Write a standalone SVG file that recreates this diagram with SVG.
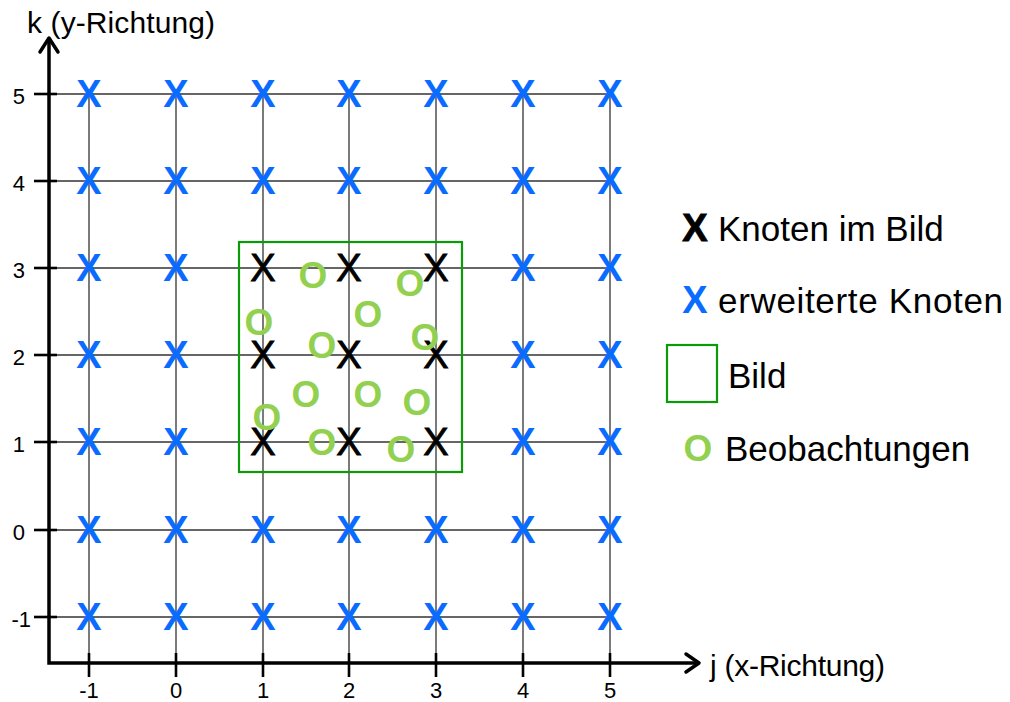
<svg xmlns="http://www.w3.org/2000/svg" width="1010" height="702" viewBox="0 0 1010 702">
<defs>
<style>
text{font-family:"Liberation Sans",Arial,sans-serif;}
.grid{stroke:#333;stroke-width:1.3;fill:none;}
.tick{stroke:#000;stroke-width:2.6;fill:none;}
.axis{stroke:#000;stroke-width:3.5;fill:none;}
.arrow{stroke:#000;stroke-width:3.5;fill:none;stroke-linecap:round;stroke-linejoin:round;}
.xb{fill:#0A6CFF;font-size:38px;font-weight:bold;text-anchor:middle;}
.xk{fill:#000;stroke:#000;stroke-width:0.9;font-size:38px;text-anchor:middle;}
.obs{fill:#92D050;font-size:37px;font-weight:bold;text-anchor:middle;}
.lbl{fill:#000;font-size:22px;}
.ax{fill:#000;font-size:30px;}
.leg{fill:#000;font-size:35px;}
.bild{fill:none;stroke:#0A9A0A;stroke-width:2.2;}
</style>
</defs>
<rect width="1010" height="702" fill="#fff"/>
<g id="connectors">
<g id="grid-h">
<line class="grid" x1="34" y1="94" x2="610" y2="94"/>
<line class="grid" x1="34" y1="181" x2="610" y2="181"/>
<line class="grid" x1="34" y1="268" x2="610" y2="268"/>
<line class="grid" x1="34" y1="355" x2="610" y2="355"/>
<line class="grid" x1="34" y1="442" x2="610" y2="442"/>
<line class="grid" x1="34" y1="530" x2="610" y2="530"/>
<line class="grid" x1="34" y1="617" x2="610" y2="617"/>
</g>
<g id="grid-v">
<line class="grid" x1="89" y1="94" x2="89" y2="677"/>
<line class="grid" x1="176" y1="94" x2="176" y2="677"/>
<line class="grid" x1="263" y1="94" x2="263" y2="677"/>
<line class="grid" x1="349" y1="94" x2="349" y2="677"/>
<line class="grid" x1="436" y1="94" x2="436" y2="677"/>
<line class="grid" x1="523" y1="94" x2="523" y2="677"/>
<line class="grid" x1="610" y1="94" x2="610" y2="677"/>
</g>
<g id="ticks">
<line class="tick" x1="34" y1="94" x2="57" y2="94"/>
<line class="tick" x1="34" y1="181" x2="57" y2="181"/>
<line class="tick" x1="34" y1="268" x2="57" y2="268"/>
<line class="tick" x1="34" y1="355" x2="57" y2="355"/>
<line class="tick" x1="34" y1="442" x2="57" y2="442"/>
<line class="tick" x1="34" y1="530" x2="57" y2="530"/>
<line class="tick" x1="34" y1="617" x2="57" y2="617"/>
<line class="tick" x1="89" y1="653" x2="89" y2="677"/>
<line class="tick" x1="176" y1="653" x2="176" y2="677"/>
<line class="tick" x1="263" y1="653" x2="263" y2="677"/>
<line class="tick" x1="349" y1="653" x2="349" y2="677"/>
<line class="tick" x1="436" y1="653" x2="436" y2="677"/>
<line class="tick" x1="523" y1="653" x2="523" y2="677"/>
<line class="tick" x1="610" y1="653" x2="610" y2="677"/>
</g>
<g id="axes">
<polyline class="axis" points="49,39 49,663 696,663"/>
<polyline class="arrow" points="40,52 49,38 58,52"/>
<polyline class="arrow" points="686,654 699,663 686,672"/>
</g>
</g>
<g id="tick-labels">
<text class="lbl" x="25" y="104" text-anchor="end">5</text>
<text class="lbl" x="25" y="191" text-anchor="end">4</text>
<text class="lbl" x="25" y="278" text-anchor="end">3</text>
<text class="lbl" x="25" y="365" text-anchor="end">2</text>
<text class="lbl" x="25" y="452" text-anchor="end">1</text>
<text class="lbl" x="25" y="540" text-anchor="end">0</text>
<text class="lbl" x="31" y="627" text-anchor="end">-1</text>
<text class="lbl" x="89" y="698" text-anchor="middle">-1</text>
<text class="lbl" x="176" y="698" text-anchor="middle">0</text>
<text class="lbl" x="263" y="698" text-anchor="middle">1</text>
<text class="lbl" x="349" y="698" text-anchor="middle">2</text>
<text class="lbl" x="436" y="698" text-anchor="middle">3</text>
<text class="lbl" x="523" y="698" text-anchor="middle">4</text>
<text class="lbl" x="610" y="698" text-anchor="middle">5</text>
</g>
<text class="ax" x="27" y="33" textLength="188">k (y-Richtung)</text>
<text class="ax" x="710" y="676" textLength="175">j (x-Richtung)</text>
<g id="bild"><rect class="bild" x="239" y="242" width="223" height="230"/></g>
<g id="nodes">
<g id="n-m1-5"><text class="xb" x="89" y="107">X</text></g>
<g id="n-0-5"><text class="xb" x="176" y="107">X</text></g>
<g id="n-1-5"><text class="xb" x="263" y="107">X</text></g>
<g id="n-2-5"><text class="xb" x="349" y="107">X</text></g>
<g id="n-3-5"><text class="xb" x="436" y="107">X</text></g>
<g id="n-4-5"><text class="xb" x="523" y="107">X</text></g>
<g id="n-5-5"><text class="xb" x="610" y="107">X</text></g>
<g id="n-m1-4"><text class="xb" x="89" y="194">X</text></g>
<g id="n-0-4"><text class="xb" x="176" y="194">X</text></g>
<g id="n-1-4"><text class="xb" x="263" y="194">X</text></g>
<g id="n-2-4"><text class="xb" x="349" y="194">X</text></g>
<g id="n-3-4"><text class="xb" x="436" y="194">X</text></g>
<g id="n-4-4"><text class="xb" x="523" y="194">X</text></g>
<g id="n-5-4"><text class="xb" x="610" y="194">X</text></g>
<g id="n-m1-3"><text class="xb" x="89" y="281">X</text></g>
<g id="n-0-3"><text class="xb" x="176" y="281">X</text></g>
<g id="n-1-3"><text class="xk" x="263" y="281">X</text></g>
<g id="n-2-3"><text class="xk" x="349" y="281">X</text></g>
<g id="n-3-3"><text class="xk" x="436" y="281">X</text></g>
<g id="n-4-3"><text class="xb" x="523" y="281">X</text></g>
<g id="n-5-3"><text class="xb" x="610" y="281">X</text></g>
<g id="n-m1-2"><text class="xb" x="89" y="368">X</text></g>
<g id="n-0-2"><text class="xb" x="176" y="368">X</text></g>
<g id="n-1-2"><text class="xk" x="263" y="368">X</text></g>
<g id="n-2-2"><text class="xk" x="349" y="368">X</text></g>
<g id="n-3-2"><text class="xk" x="436" y="368">X</text></g>
<g id="n-4-2"><text class="xb" x="523" y="368">X</text></g>
<g id="n-5-2"><text class="xb" x="610" y="368">X</text></g>
<g id="n-m1-1"><text class="xb" x="89" y="455">X</text></g>
<g id="n-0-1"><text class="xb" x="176" y="455">X</text></g>
<g id="n-1-1"><text class="xk" x="263" y="455">X</text></g>
<g id="n-2-1"><text class="xk" x="349" y="455">X</text></g>
<g id="n-3-1"><text class="xk" x="436" y="455">X</text></g>
<g id="n-4-1"><text class="xb" x="523" y="455">X</text></g>
<g id="n-5-1"><text class="xb" x="610" y="455">X</text></g>
<g id="n-m1-0"><text class="xb" x="89" y="543">X</text></g>
<g id="n-0-0"><text class="xb" x="176" y="543">X</text></g>
<g id="n-1-0"><text class="xb" x="263" y="543">X</text></g>
<g id="n-2-0"><text class="xb" x="349" y="543">X</text></g>
<g id="n-3-0"><text class="xb" x="436" y="543">X</text></g>
<g id="n-4-0"><text class="xb" x="523" y="543">X</text></g>
<g id="n-5-0"><text class="xb" x="610" y="543">X</text></g>
<g id="n-m1-m1"><text class="xb" x="89" y="630">X</text></g>
<g id="n-0-m1"><text class="xb" x="176" y="630">X</text></g>
<g id="n-1-m1"><text class="xb" x="263" y="630">X</text></g>
<g id="n-2-m1"><text class="xb" x="349" y="630">X</text></g>
<g id="n-3-m1"><text class="xb" x="436" y="630">X</text></g>
<g id="n-4-m1"><text class="xb" x="523" y="630">X</text></g>
<g id="n-5-m1"><text class="xb" x="610" y="630">X</text></g>
</g>
<g id="observations">
<g id="o1"><text class="obs" x="313" y="288">O</text></g>
<g id="o2"><text class="obs" x="410" y="296">O</text></g>
<g id="o3"><text class="obs" x="259" y="335">O</text></g>
<g id="o4"><text class="obs" x="368" y="327">O</text></g>
<g id="o5"><text class="obs" x="425" y="350">O</text></g>
<g id="o6"><text class="obs" x="322" y="358">O</text></g>
<g id="o7"><text class="obs" x="306" y="407">O</text></g>
<g id="o8"><text class="obs" x="368" y="407">O</text></g>
<g id="o9"><text class="obs" x="417" y="415">O</text></g>
<g id="o10"><text class="obs" x="267" y="430">O</text></g>
<g id="o11"><text class="obs" x="322" y="455">O</text></g>
<g id="o12"><text class="obs" x="401" y="462">O</text></g>
</g>
<g id="legend">
<g id="leg-knoten"><text class="xk" x="695" y="241" font-weight="bold" font-size="33" stroke-width="0">X</text><text class="leg" x="718" y="241">Knoten im Bild</text></g>
<g id="leg-erweitert"><text class="xb" x="695" y="313" font-size="33">X</text><text class="leg" x="718" y="313" textLength="285">erweiterte Knoten</text></g>
<g id="leg-bild"><rect class="bild" x="667" y="345" width="50" height="57"/><text class="leg" x="728" y="388">Bild</text></g>
<g id="leg-obs"><text class="obs" x="698" y="461">O</text><text class="leg" x="725" y="461">Beobachtungen</text></g>
</g>
</svg>
